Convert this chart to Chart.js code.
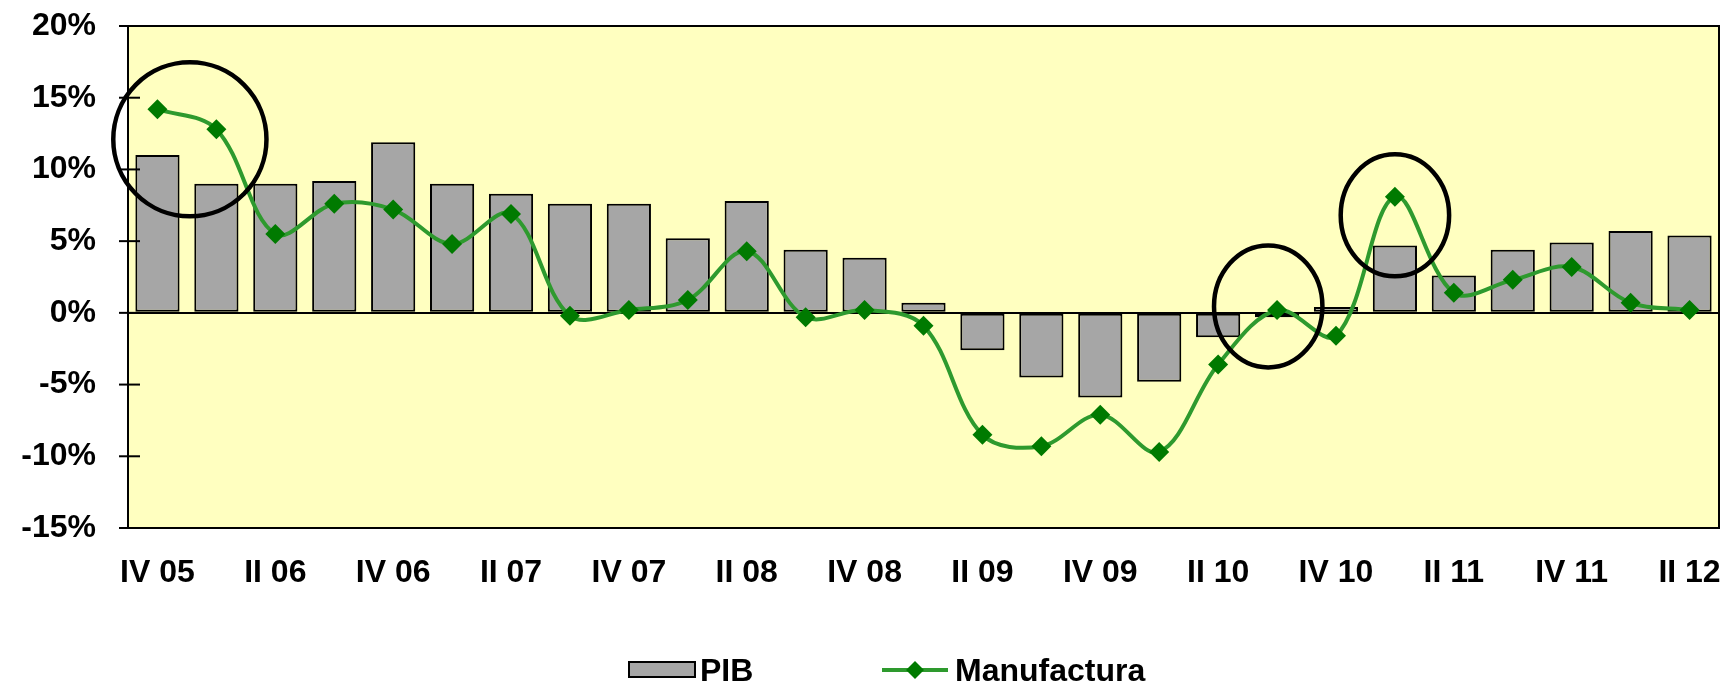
<!DOCTYPE html>
<html>
<head>
<meta charset="utf-8">
<script src="https://cdn.jsdelivr.net/npm/chart.js@4.4.0/dist/chart.umd.min.js"></script>
<style>
  html, body { margin: 0; padding: 0; background: #ffffff; }
  #wrap { width: 1735px; height: 687px; position: relative; }
</style>
</head>
<body>
<div id="wrap"><canvas id="c" width="1735" height="687"></canvas></div>
<script>
// ---- Data ----
const categories = ["IV 05","I 06","II 06","III 06","IV 06","I 07","II 07","III 07","IV 07","I 08","II 08","III 08","IV 08","I 09","II 09","III 09","IV 09","I 10","II 10","III 10","IV 10","I 11","II 11","III 11","IV 11","I 12","II 12"];
const pibValues = [11.0, 9.0, 9.0, 9.2, 11.9, 9.0, 8.3, 7.6, 7.6, 5.2, 7.8, 4.4, 3.85, 0.7, -2.6, -4.5, -5.9, -4.8, -1.7, -0.3, 0.4, 4.7, 2.6, 4.4, 4.9, 5.7, 5.4];
const manufValues = [14.2, 12.8, 5.5, 7.6, 7.2, 4.8, 6.9, -0.2, 0.2, 0.9, 4.3, -0.3, 0.2, -0.9, -8.5, -9.3, -7.1, -9.7, -3.6, 0.2, -1.6, 8.1, 1.4, 2.3, 3.2, 0.7, 0.2];
const seriesNames = ["PIB", "Manufactura"];
const yTickValues = [-15, -10, -5, 0, 5, 10, 15, 20];
// highlighted points (ellipses): category index (fractional) and value of centre
const highlightCat = [0.55, 18.85, 21.0];
const highlightVal = [12.1, 0.45, 6.8];

const FONT = "'Liberation Sans', Arial, sans-serif";
const CLEAR = 'rgba(0,0,0,0)';

const plotBg = {
  id: 'plotBg',
  beforeDraw(chart) {
    const {ctx, chartArea: a} = chart;
    ctx.save();
    ctx.fillStyle = '#FFFFC0';
    ctx.fillRect(a.left, a.top, a.right - a.left, a.bottom - a.top);
    ctx.restore();
  },
  afterDatasetsDraw(chart) {
    const {ctx, chartArea: a, scales} = chart;
    ctx.save();
    ctx.strokeStyle = '#000';
    ctx.lineWidth = 2;
    ctx.strokeRect(a.left, a.top, a.right - a.left, a.bottom - a.top);
    yTickValues.forEach(v => {
      const y = scales.y.getPixelForValue(v);
      ctx.beginPath();
      ctx.moveTo(a.left - 9, y);
      ctx.lineTo(a.left + 12, y);
      ctx.stroke();
    });
    const x = scales.x, yS = scales.y;
    const catW = x.getPixelForValue(1) - x.getPixelForValue(0);
    ctx.lineWidth = 4.5;
    highlightCat.forEach((c, i) => {
      const cx = x.getPixelForValue(0) + c * catW;
      const cy = yS.getPixelForValue(highlightVal[i]);
      const rx = i === 0 ? catW * 1.3 : catW * 0.92;
      const ry = i === 0 ? 77 : 61;
      ctx.beginPath();
      ctx.ellipse(cx, cy, rx, ry, 0, 0, Math.PI * 2);
      ctx.stroke();
    });
    ctx.restore();
  },
  afterDraw(chart) {
    const {ctx} = chart;
    ctx.save();
    const ly = 670;
    ctx.fillStyle = '#A6A6A6';
    ctx.strokeStyle = '#000';
    ctx.lineWidth = 2;
    ctx.fillRect(629, ly - 8, 66, 15);
    ctx.strokeRect(629, ly - 8, 66, 15);
    ctx.fillStyle = '#000';
    ctx.font = 'bold 32px ' + FONT;
    ctx.textBaseline = 'middle';
    ctx.textAlign = 'left';
    ctx.fillText(seriesNames[0], 700, ly + 2);
    ctx.strokeStyle = '#2E9A2E';
    ctx.lineWidth = 4;
    ctx.beginPath();
    ctx.moveTo(882, ly);
    ctx.lineTo(948, ly);
    ctx.stroke();
    ctx.fillStyle = '#007A00';
    ctx.beginPath();
    ctx.moveTo(915, ly - 9);
    ctx.lineTo(924, ly);
    ctx.lineTo(915, ly + 9);
    ctx.lineTo(906, ly);
    ctx.closePath();
    ctx.fill();
    ctx.fillStyle = '#000';
    ctx.fillText(seriesNames[1], 955, ly + 2);
    ctx.restore();
  }
};

new Chart(document.getElementById('c'), {
  data: {
    labels: categories,
    datasets: [
      {
        type: 'line',
        label: seriesNames[1],
        data: manufValues,
        borderColor: '#2E9A2E',
        borderWidth: 4,
        tension: 0.35,
        pointStyle: 'rectRot',
        pointRadius: 10,
        pointBackgroundColor: '#007A00',
        pointBorderColor: '#007A00',
        pointBorderWidth: 0,
        order: 0
      },
      {
        type: 'bar',
        label: seriesNames[0],
        data: pibValues,
        backgroundColor: '#A6A6A6',
        borderColor: '#000',
        borderWidth: 2,
        borderSkipped: false,
        barPercentage: 0.75,
        categoryPercentage: 1.0,
        order: 1
      }
    ]
  },
  options: {
    responsive: false,
    animation: false,
    layout: { padding: { top: 26, right: 16, left: 0, bottom: 0 } },
    plugins: { legend: { display: false }, tooltip: { enabled: false } },
    scales: {
      x: {
        type: 'category',
        offset: true,
        grid: { display: true, drawOnChartArea: false, drawTicks: true, tickLength: 26, tickColor: CLEAR, color: CLEAR },
        border: { display: false },
        ticks: {
          autoSkip: false,
          maxRotation: 0,
          minRotation: 0,
          padding: 0,
          color: '#000',
          font: { family: FONT, size: 32, weight: 'bold' },
          callback: function(v, i) { return i % 2 === 0 ? categories[i] : ''; }
        },
        afterFit(scale) { scale.height = 159; }
      },
      y: {
        min: -15,
        max: 20,
        afterBuildTicks(scale) { scale.ticks = yTickValues.map(v => ({ value: v })); },
        grid: {
          drawTicks: true,
          tickLength: 32,
          tickColor: CLEAR,
          color: ctx => (ctx.tick && ctx.tick.value === 0) ? '#000' : CLEAR,
          lineWidth: 2
        },
        border: { display: true, color: '#000', width: 2 },
        ticks: {
          padding: 0,
          color: '#000',
          font: { family: FONT, size: 32, weight: 'bold' },
          callback: v => v + '%'
        },
        afterFit(scale) { scale.width = 128; }
      }
    }
  },
  plugins: [plotBg]
});
</script>
</body>
</html>
